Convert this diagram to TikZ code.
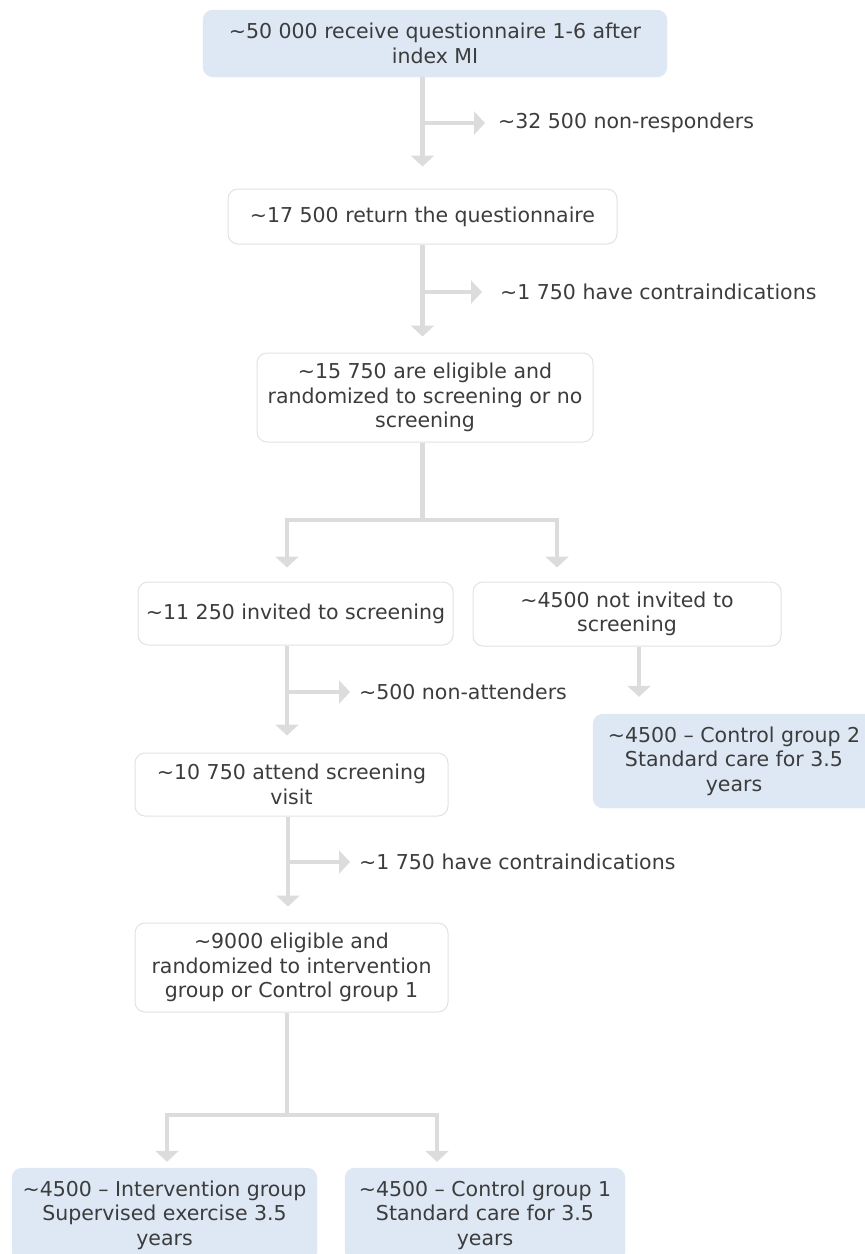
\documentclass[tikz,border=0pt]{standalone}
\usepackage{fontspec}
\setmainfont{DejaVu Sans}
\usetikzlibrary{arrows.meta}

\definecolor{boxBlue}{HTML}{DDE8F4}
\definecolor{boxEdge}{HTML}{E2E2E2}
\definecolor{flowGray}{HTML}{DCDCDC}
\definecolor{textGray}{HTML}{3C3C3C}
\newcommand{\apx}{\textasciitilde}

\begin{document}
\begin{tikzpicture}[x=1pt, y=-1pt,
  every node/.style={font=\fontsize{20.5}{24.5}\selectfont, text=textGray, align=center, inner sep=0pt},
  box/.style={draw=boxEdge, line width=1pt, fill=white, rounded corners=10pt},
  bluebox/.style={draw=boxBlue, fill=boxBlue, rounded corners=10pt},
  flowline/.style={draw=flowGray, line width=4.5pt},
  flow/.style={flowline, -{Triangle[width=23pt, length=11pt]}},
  sidenote/.style={anchor=west}]
\clip (0,0) rectangle (865,1254);

\node[bluebox, minimum width=464pt, minimum height=67pt] (receive) at (435,43.5) {\apx50 000 receive questionnaire 1-6 after\\index MI};
\node[box, minimum width=389pt, minimum height=55pt] (returned) at (422.5,216.5) {\apx17 500 return the questionnaire};
\node[box, minimum width=336pt, minimum height=89pt] (eligible) at (425,397.5) {\apx15 750 are eligible and\\randomized to screening or no\\screening};
\node[box, minimum width=315pt, minimum height=63pt] (invited) at (295.5,613.5) {\apx11 250 invited to screening};
\node[box, minimum width=308pt, minimum height=64pt] (notInvited) at (627,614) {\apx4500 not invited to\\screening};
\node[bluebox, minimum width=282pt, minimum height=94pt] (controlTwo) at (734,761) {\apx4500 – Control group 2\\Standard care for 3.5\\years};
\node[box, minimum width=313pt, minimum height=63pt] (attend) at (291.5,784.5) {\apx10 750 attend screening\\visit};
\node[box, minimum width=313pt, minimum height=89pt] (eligibleTwo) at (291.5,967.5) {\apx9000 eligible and\\randomized to intervention\\group or Control group 1};
\node[bluebox, minimum width=305pt, minimum height=94pt] (intervention) at (164.5,1215) {\apx4500 – Intervention group\\Supervised exercise 3.5\\years};
\node[bluebox, minimum width=280pt, minimum height=94pt] (controlOne) at (485,1215) {\apx4500 – Control group 1\\Standard care for 3.5\\years};

\node[sidenote] (nonResp) at (498,123) {\apx32 500 non-responders};
\node[sidenote] (contraOne) at (500,292) {\apx1 750 have contraindications};
\node[sidenote] (nonAttend) at (359,692) {\apx500 non-attenders};
\node[sidenote] (contraTwo) at (359,862) {\apx1 750 have contraindications};

\draw[flow, shorten >=22pt] (receive.south -| returned.north) -- (returned.north);
\draw[flow, shorten >=13pt] (nonResp.west -| returned.north) -- (nonResp.west);

\draw[flow, shorten >=16pt] (returned.south) -- (returned.south |- eligible.north);
\draw[flow, shorten >=18pt] (contraOne.west -| returned.south) -- (contraOne.west);

\coordinate (forkTop) at (422.5,520);
\draw[flowline] (eligible.south -| forkTop) -- (forkTop);
\draw[flow, shorten >=14pt] (forkTop) -| ([xshift=-8.5pt]invited.north);
\draw[flow, shorten >=14pt] (forkTop) -| ([xshift=-70pt]notInvited.north);

\coordinate (invitedOut) at ([xshift=-8.5pt]invited.south);
\draw[flow, shorten >=17pt] (invitedOut) -- (invitedOut |- attend.north);
\draw[flow, shorten >=9pt] (nonAttend.west -| invitedOut) -- (nonAttend.west);

\coordinate (notInvitedOut) at ([xshift=12pt]notInvited.south);
\draw[flow, shorten >=17pt] (notInvitedOut) -- (notInvitedOut |- controlTwo.north);

\coordinate (attendOut) at ([xshift=-3.5pt]attend.south);
\draw[flow, shorten >=16pt] (attendOut) -- (attendOut |- eligibleTwo.north);
\draw[flow, shorten >=9pt] (contraTwo.west -| attendOut) -- (contraTwo.west);

\coordinate (forkBottom) at (287,1115);
\draw[flowline] (eligibleTwo.south -| forkBottom) -- (forkBottom);
\draw[flow, shorten >=6pt] (forkBottom) -| ([xshift=2.5pt]intervention.north);
\draw[flow, shorten >=6pt] (forkBottom) -| ([xshift=-48pt]controlOne.north);

\end{tikzpicture}
\end{document}
